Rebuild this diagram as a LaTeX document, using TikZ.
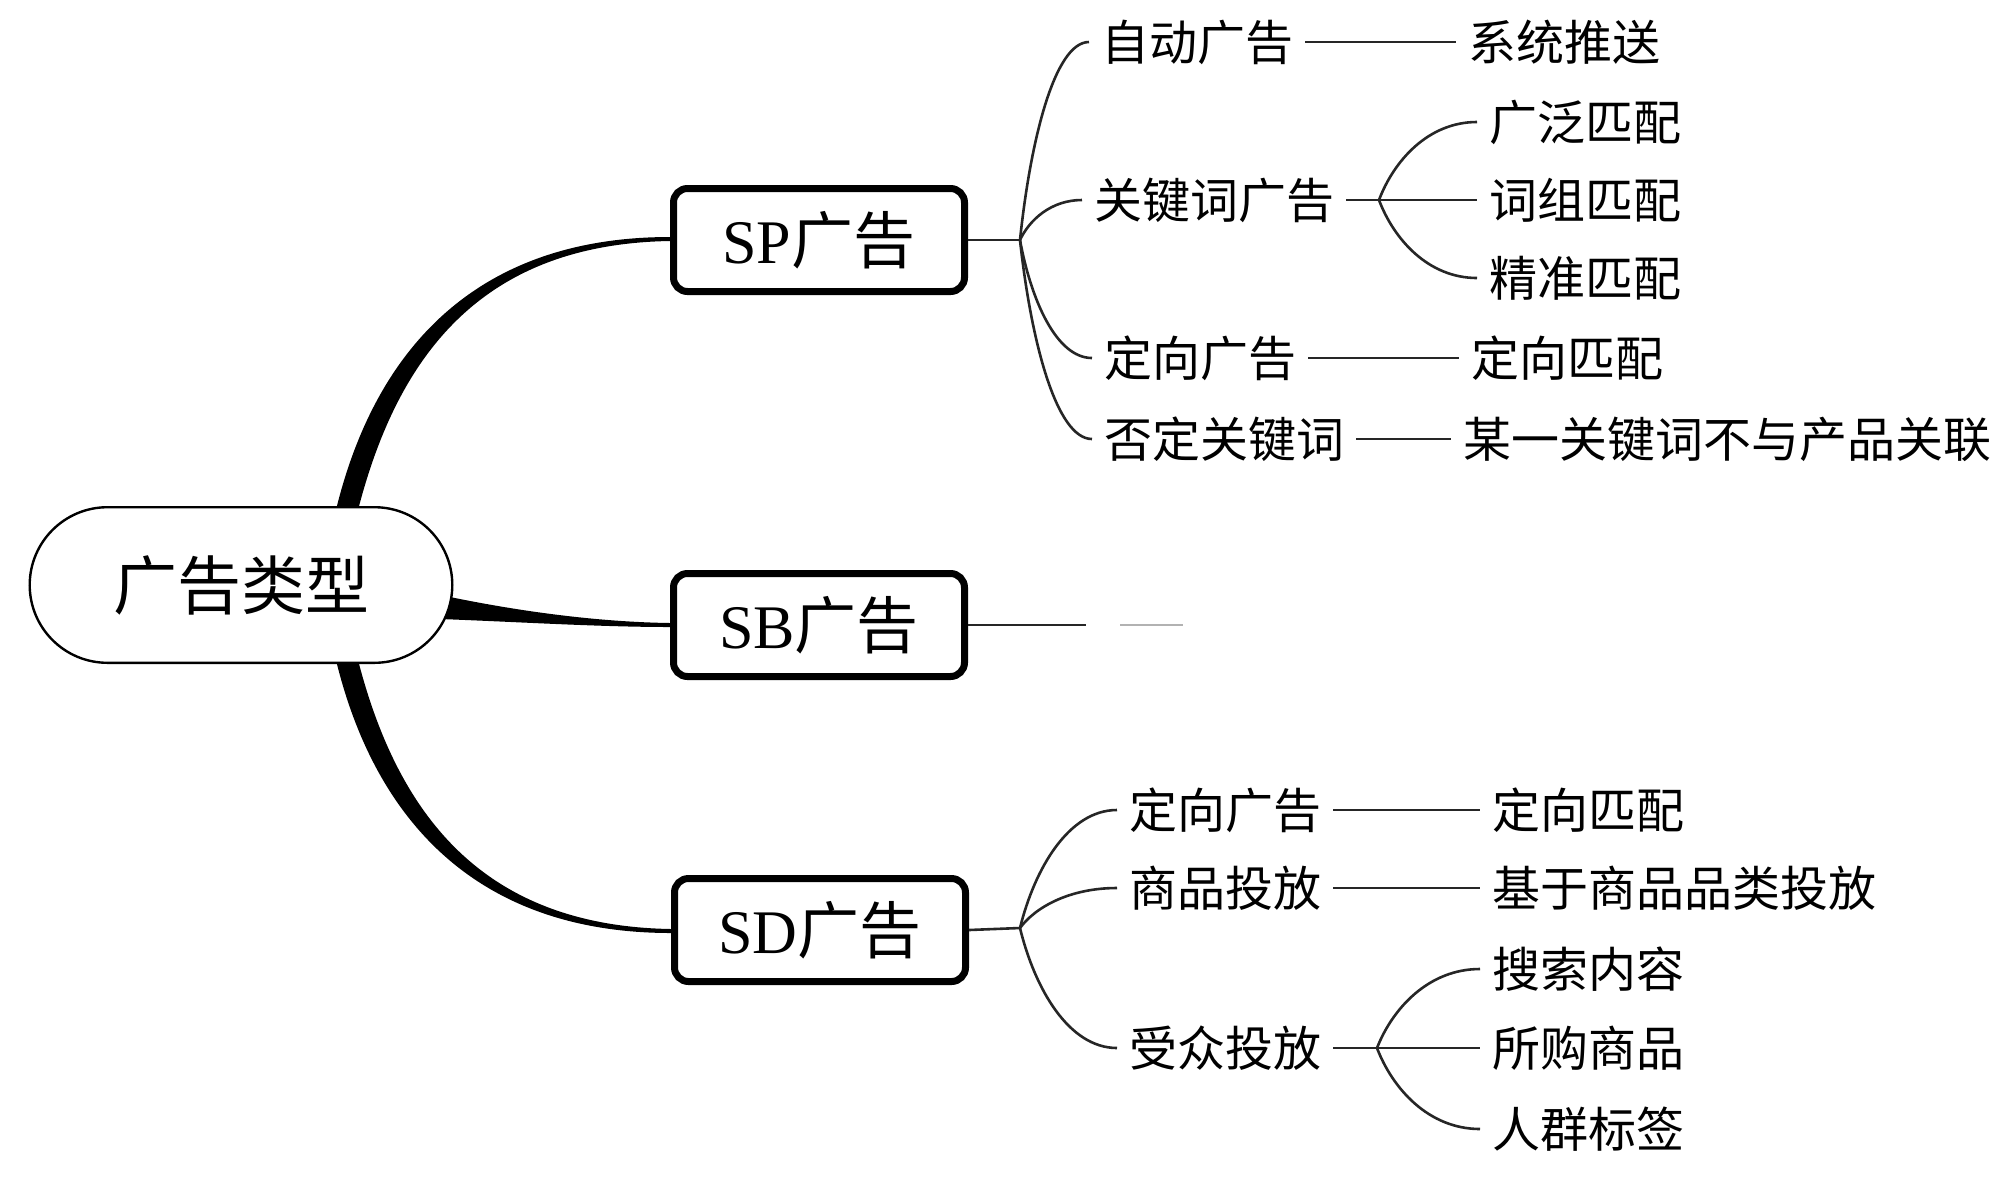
\documentclass[tikz,border=0pt]{standalone}
\usepackage{fontspec}
\setmainfont{Liberation Serif}
\newfontfamily\cjk{Noto Sans CJK SC}
\usepackage{tikz}
\usetikzlibrary{calc}
\usetikzlibrary{backgrounds}
\tikzset {
  % central topic, a stadium
  topic/.style = {draw, line width=1.2pt, fill=white, rounded corners=38.9pt,
    minimum width=211.3pt, minimum height=77.8pt, inner sep=0pt,
    font=\cjk\fontsize{32pt}{32pt}\selectfont},
  % the three kinds of ads
  kind/.style = {draw, line width=3.5pt, fill=white, rounded corners=7pt,
    minimum width=145.5pt, minimum height=51.5pt, inner sep=0pt,
    font=\fontsize{31pt}{31pt}\selectfont},
  % plain texts on the right
  leaf/.style = {anchor=west, inner sep=0pt, outer sep=6pt,
    font=\cjk\fontsize{24pt}{24pt}\selectfont},
  % thin connectors
  link/.style = {black!85, line width=1.3pt},
  % curved connector from a fork to a text
  twig/.style = {to path={let \p1=(\tikztostart), \p2=(\tikztotarget) in
    .. controls ({\x1+0.15*(\x2-\x1)}, {\y1+0.5*(\y2-\y1)})
    and ({\x1+0.5*(\x2-\x1)}, \y2) .. (\tikztotarget) \tikztonodes}},
}

\begin{document}
\begin{tikzpicture}[x=0.5pt, y=0.5pt]
        \useasboundingbox (0,0) rectangle (1999,-1191);

        \node[topic] (root) at (241,-585) {广告类型};
        \node[kind] (sp) at (819,-240) {SP{\cjk 广告}};
        \node[kind] (sb) at (819,-625) {SB{\cjk 广告}};
        \node[kind] (sd) at (820,-930) {SD{\cjk 广告}};

        % SP
        \coordinate (jsp) at (1020,-240);
        \node[leaf] (auto) at (1089,-42) {自动广告};
        \node[leaf] (push) at (1456,-42) {系统推送};
        \node[leaf] (kw) at (1082,-200) {关键词广告};
        \coordinate (jkw) at (1379,-200);
        \node[leaf] (broad) at (1477,-122) {广泛匹配};
        \node[leaf] (phrase) at (1477,-200) {词组匹配};
        \node[leaf] (exact) at (1477,-278) {精准匹配};
        \node[leaf] (sptgt) at (1092,-358) {定向广告};
        \node[leaf] (spmatch) at (1459,-358) {定向匹配};
        \node[leaf] (neg) at (1092,-439) {否定关键词};
        \node[leaf] (negdesc) at (1451,-439) {某一关键词不与产品关联};

        % SB
        \coordinate (sbend) at (1086,-625);
        \coordinate (fadeA) at (1120,-625);
        \coordinate (fadeB) at (1183,-625);

        % SD
        \coordinate (jsd) at (1020,-928);
        \node[leaf] (sdtgt) at (1117,-810) {定向广告};
        \node[leaf] (sdmatch) at (1480,-810) {定向匹配};
        \node[leaf] (prod) at (1117,-888) {商品投放};
        \node[leaf] (cat) at (1480,-888) {基于商品品类投放};
        \node[leaf] (aud) at (1117,-1048) {受众投放};
        \coordinate (jaud) at (1377,-1048);
        \node[leaf] (search) at (1480,-969) {搜索内容};
        \node[leaf] (bought) at (1480,-1048) {所购商品};
        \node[leaf] (crowd) at (1480,-1129) {人群标签};

        \begin{scope}[on background layer]
        % thick tapered branches
        \fill ($(root.north)+(94,-8)$) .. controls +(40,169) and +(-190,0) .. ($(sp.west)+(0,3)$)
          -- ($(sp.west)+(0,-1)$) .. controls +(-188,-3) and +(40,159) .. ($(root.north)+(116,-8)$) -- cycle;
        \fill ($(root.east)+(-13,-10)$) .. controls +(80,-17) and +(-70,1) .. ($(sb.west)+(0,2)$)
          -- ($(sb.west)+(0,-2)$) .. controls +(-70,0) and +(80,-3) .. ($(root.east)+(-13,-34)$) -- cycle;
        \fill ($(root.south)+(94,8)$) .. controls +(40,-169) and +(-190,0) .. ($(sd.west)+(0,-3)$)
          -- ($(sd.west)+(0,1)$) .. controls +(-188,3) and +(40,-159) .. ($(root.south)+(116,8)$) -- cycle;
        \end{scope}

        % SP connectors
        \draw [link] (sp.east) -- (jsp);
        \draw [link] (jsp) to[twig] (auto.west);
        \draw [link] (jsp) to[twig] (kw.west);
        \draw [link] (jsp) to[twig] (sptgt.west);
        \draw [link] (jsp) to[twig] (neg.west);
        \draw [link] (auto.east) -- (push.west);
        \draw [link] (kw.east) -- (jkw);
        \draw [link] (jkw) to[twig] (broad.west);
        \draw [link] (jkw) -- (phrase.west);
        \draw [link] (jkw) to[twig] (exact.west);
        \draw [link] (sptgt.east) -- (spmatch.west);
        \draw [link] (neg.east) -- (negdesc.west);

        % SB connectors
        \draw [link] (sb.east) -- (sbend);
        \draw [link, black!30] (fadeA) -- (fadeB);

        % SD connectors
        \draw [link] (sd.east) -- (jsd);
        \draw [link] (jsd) to[twig] (sdtgt.west);
        \draw [link] (jsd) to[twig] (prod.west);
        \draw [link] (jsd) to[twig] (aud.west);
        \draw [link] (sdtgt.east) -- (sdmatch.west);
        \draw [link] (prod.east) -- (cat.west);
        \draw [link] (aud.east) -- (jaud);
        \draw [link] (jaud) to[twig] (search.west);
        \draw [link] (jaud) -- (bought.west);
        \draw [link] (jaud) to[twig] (crowd.west);
      \end{tikzpicture}
\end{document}
